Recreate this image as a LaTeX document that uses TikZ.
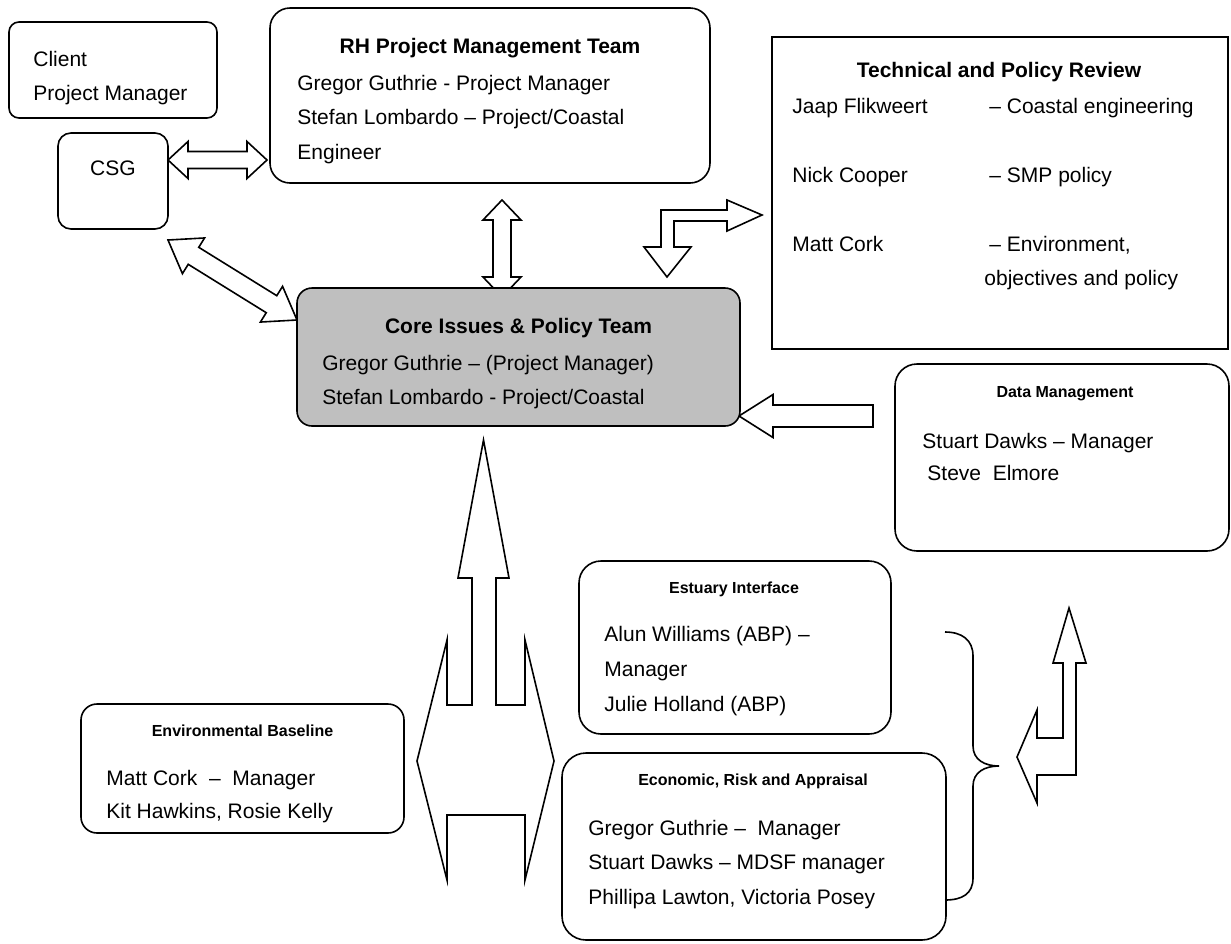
\documentclass[tikz,border=0pt]{standalone}
\usepackage{fontspec}
\setmainfont{Liberation Sans}
\usetikzlibrary{calc,backgrounds}

\tikzset{
  team/.style={draw, line width=0.8pt, rounded corners=#1, inner sep=0pt},
  team/.default=10pt,
  body/.style={align=left, anchor=north west, inner sep=0pt, font=\fontsize{10.5}{17.25}\selectfont},
  head/.style={anchor=base, inner sep=0pt, font=\fontsize{10.5}{12}\selectfont\bfseries},
  subhead/.style={anchor=base, inner sep=0pt, font=\fontsize{8}{10}\selectfont\bfseries},
  blockarrow/.style={draw, line width=0.8pt, line join=miter},
}

\newcommand\dblarrow[5]{%
  \draw[blockarrow] (#1)
    -- ($(#1)!#3!(#2)!#4!90:(#2)$) -- ($(#1)!#3!(#2)!#5!90:(#2)$)
    -- ($(#2)!#3!(#1)!#5!-90:(#1)$) -- ($(#2)!#3!(#1)!#4!-90:(#1)$)
    -- (#2)
    -- ($(#2)!#3!(#1)!#4!90:(#1)$) -- ($(#2)!#3!(#1)!#5!90:(#1)$)
    -- ($(#1)!#3!(#2)!#5!-90:(#2)$) -- ($(#1)!#3!(#2)!#4!-90:(#2)$)
    -- cycle;}

\begin{document}
\begin{tikzpicture}[x=0.5pt,y=-0.5pt]
\useasboundingbox (0,0) rectangle (1231,943);

\node[team=5pt, minimum width=104pt, minimum height=48pt] (client) at (113,70) {};
\node[body] (clientTxt) at (33,50.5) {Client\\Project Manager};
\node[team=6.5pt, minimum width=55pt, minimum height=48pt] (csg) at (113,181) {};
\node[anchor=base, inner sep=0pt, font=\fontsize{10.5}{12}\selectfont] (csgTxt) at (113,175.5) {CSG};

\node[team=10pt, minimum width=220pt, minimum height=87.5pt] (rh) at (490,95.5) {};
\node[head] (rhHead) at (490,53.5) {RH Project Management Team};
\node[body] (rhTxt) at (297,74.5) {Gregor Guthrie - Project Manager\\Stefan Lombardo -- Project/Coastal\\Engineer};

\node[draw, line width=0.8pt, minimum width=228pt, minimum height=156pt] (review) at (1000,193) {};
\node[head] (reviewHead) at (999,77.5) {Technical and Policy Review};
\node[body] (reviewNames) at (792,97.5) {Jaap Flikweert\\[17.25pt]Nick Cooper\\[17.25pt]Matt Cork};
\node[body] (reviewRoles) at (989,97.5) {-- Coastal engineering\\[17.25pt]-- SMP policy\\[17.25pt]-- Environment,\\\hspace*{-2.5pt}objectives and policy};

\node[team=7.5pt, fill=black!25, minimum width=221.5pt, minimum height=69pt] (core) at (518.5,357) {};
\node[head] (coreHead) at (518.5,333.5) {Core Issues \& Policy Team};
\node[body] (coreTxt) at (322,354.5) {Gregor Guthrie -- (Project Manager)\\Stefan Lombardo - Project/Coastal};

\node[team=11pt, minimum width=167pt, minimum height=93.5pt] (data) at (1062,457.5) {};
\node[subhead] (dataHead) at (1065,397.8) {Data Management};
\node[body, font=\fontsize{10.5}{16}\selectfont] (dataTxt) at (922,432.5) {Stuart Dawks -- Manager\\\hspace*{2.5pt}Steve\ \ Elmore};

\node[team=11pt, minimum width=156pt, minimum height=86.5pt] (estuary) at (735,647.5) {};
\node[subhead] (estuaryHead) at (734,593.8) {Estuary Interface};
\node[body, font=\fontsize{10.5}{17.5}\selectfont] (estuaryTxt) at (604,625.5) {Alun Williams (ABP) --\\Manager\\Julie Holland (ABP)};

\node[team=12pt, minimum width=192pt, minimum height=93.5pt] (econ) at (754,846.5) {};
\node[subhead] (econHead) at (753,785.8) {Economic, Risk and Appraisal};
\node[body] (econTxt) at (588,819.5) {Gregor Guthrie --\ \ Manager\\Stuart Dawks -- MDSF manager\\Phillipa Lawton, Victoria Posey};

\node[team=8pt, minimum width=161.5pt, minimum height=64.5pt] (envbase) at (242.5,768.5) {};
\node[subhead] (envHead) at (242.5,736.8) {Environmental Baseline};
\node[body, font=\fontsize{10.5}{16.5}\selectfont] (envTxt) at (106,769.5) {Matt Cork\ \ --\ \ Manager\\Kit Hawkins, Rosie Kelly};

\coordinate (csgE) at (168,160);
\coordinate (rhW) at (267,160);
\coordinate (rhS) at (502,200);
\coordinate (coreN) at (502,297);
\coordinate (csgSE) at (168,240);
\coordinate (coreW) at (297,320);

\begin{scope}[on background layer]
\dblarrow{csgE}{rhW}{10pt}{9.25pt}{4.25pt}
\dblarrow{rhS}{coreN}{10pt}{9.5pt}{4.5pt}
\dblarrow{csgSE}{coreW}{15pt}{10.5pt}{5pt}
\draw[blockarrow] (739,416) -- (773,394.5) -- (773,405) -- (873,405) -- (873,427) -- (773,427) -- (773,437.5) -- cycle;
\draw[blockarrow] (667,277) -- (691,247) -- (674,247) -- (674,221) -- (727,221) -- (727,231) -- (762,215) -- (727,200) -- (727,210) -- (661,210) -- (661,247) -- (644,247) -- cycle;
\draw[blockarrow] (483.5,440) -- (509,578) -- (496,578) -- (496,705) -- (525,705) -- (525,640) -- (554,761) -- (525,880) -- (525,815) -- (447,815) -- (447,880) -- (417,761) -- (447,640) -- (447,705) -- (472,705) -- (472,578) -- (458,578) -- cycle;
\draw[blockarrow] (1069,608) -- (1086,663) -- (1076,663) -- (1076,775) -- (1037,775) -- (1037,803) -- (1017,757) -- (1037,710) -- (1037,738) -- (1063,738) -- (1063,663) -- (1053,663) -- cycle;
\end{scope}

\draw[line width=0.8pt] (945,632) .. controls (962,632) and (973,640) .. (973,656) -- (973,746) .. controls (973,760) and (985,766) .. (999,766) .. controls (985,766) and (973,772) .. (973,786) -- (973,878) .. controls (973,894) and (962,900) .. (945,900);
\end{tikzpicture}
\end{document}
